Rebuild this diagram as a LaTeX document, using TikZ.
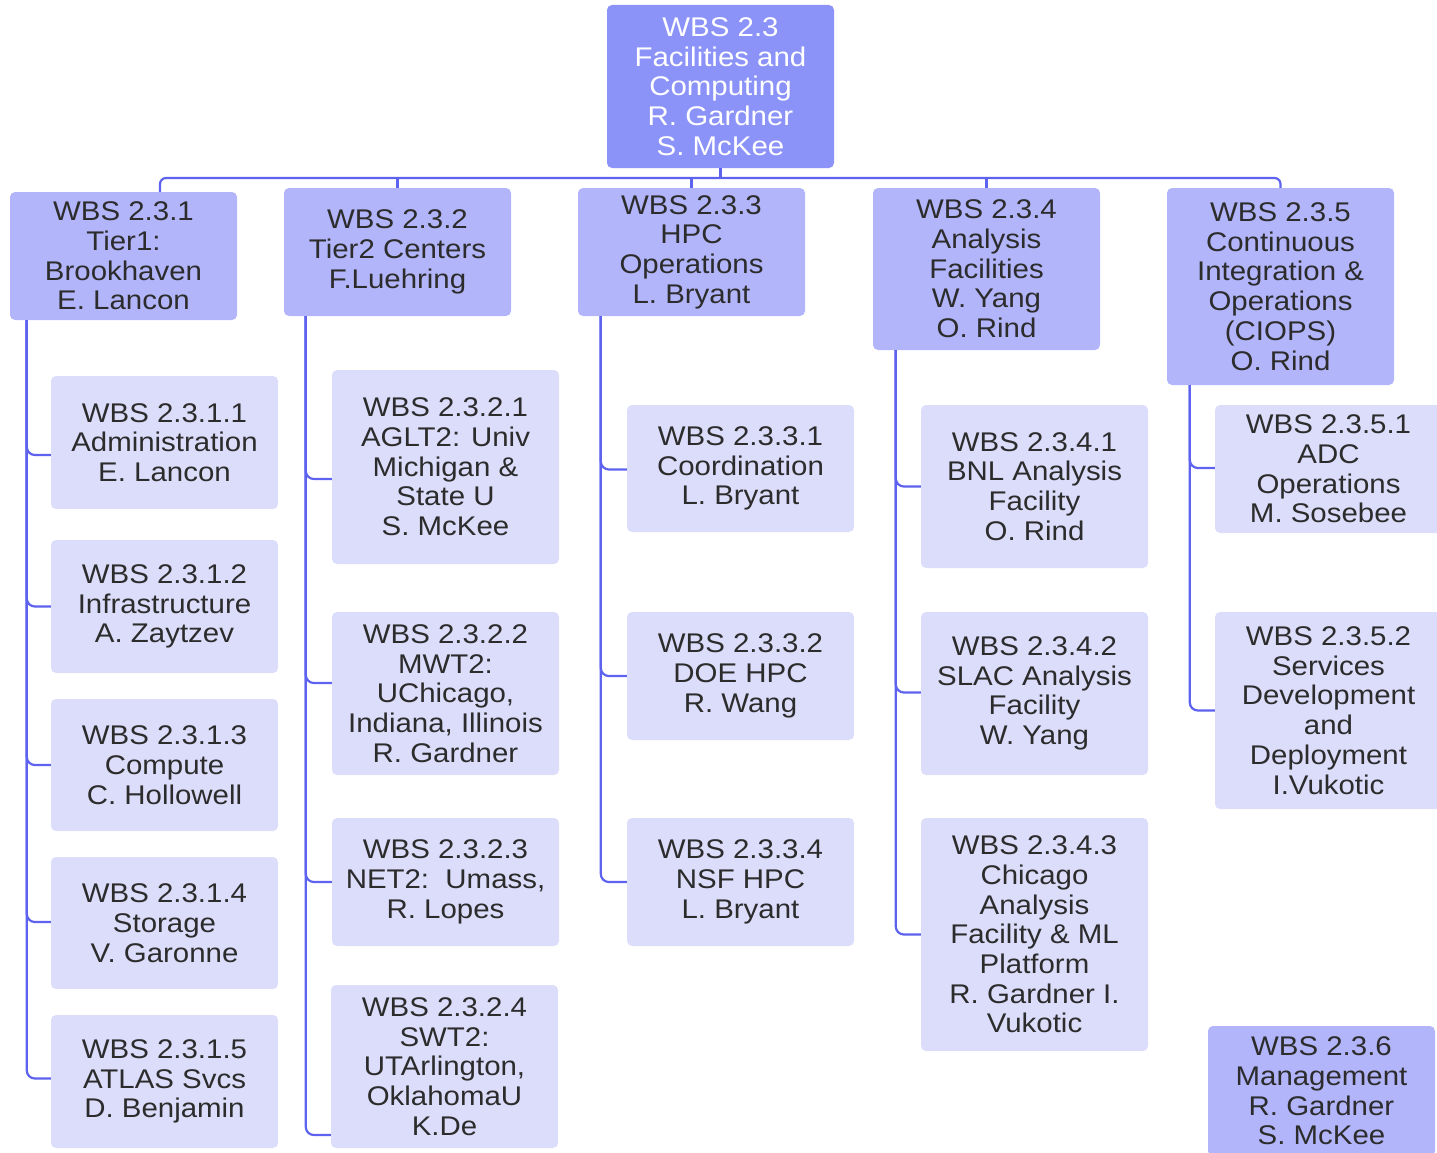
\documentclass[tikz,border=0pt]{standalone}
\usepackage{fontspec}
\setmainfont{Liberation Sans}[FakeStretch=1.09]
\definecolor{topfill}{HTML}{8C93F8}
\definecolor{lonefill}{HTML}{B2B5FA}
\definecolor{ltwofill}{HTML}{DCDDFB}
\definecolor{linec}{HTML}{5D63EE}
\definecolor{txt}{HTML}{2C2C2C}
\tikzset{
  box/.style={rectangle, rounded corners=5pt, minimum width=227pt, align=center, inner sep=0pt,
    font=\fontsize{27}{29.7}\selectfont, text=txt},
  topbox/.style={box, fill=topfill, text=white},
  lone/.style={box, fill=lonefill},
  ltwo/.style={box, fill=ltwofill},
  conn/.style={draw=linec, line width=2.2pt, rounded corners=8pt},
}
\begin{document}
\begin{tikzpicture}[x=1pt,y=-1pt]
\path[use as bounding box] (0,0) rectangle (1437,1153);
\clip (0,0) rectangle (1437,1153);
% top
\node[topbox, minimum height=163pt] (n0) at (720.5,86.5) {WBS 2.3\\Facilities and\\Computing\\R. Gardner\\S. McKee};
% level 1
\node[lone, minimum height=128pt] (n1) at (123.5,256) {WBS 2.3.1\\Tier1:\\Brookhaven\\E. Lancon};
\node[lone, minimum height=128pt] (n2) at (397.5,252) {WBS 2.3.2\\Tier2 Centers\\F.Luehring};
\node[lone, minimum height=128pt] (n3) at (691.5,252) {WBS 2.3.3\\HPC\\Operations\\L. Bryant};
\node[lone, minimum height=162pt] (n4) at (986.5,269) {WBS 2.3.4\\Analysis\\Facilities\\W. Yang\\O. Rind};
\node[lone, minimum height=197pt] (n5) at (1280.5,286.5) {WBS 2.3.5\\Continuous\\Integration \&\\Operations\\(CIOPS)\\O. Rind};
% level 2, column 1
\node[ltwo, minimum height=133pt] (n11) at (164.5,442.5) {WBS 2.3.1.1\\Administration\\E. Lancon};
\node[ltwo, minimum height=133pt] (n12) at (164.5,606.5) {WBS 2.3.1.2\\Infrastructure\\A. Zaytzev};
\node[ltwo, minimum height=132pt] (n13) at (164.5,765) {WBS 2.3.1.3\\Compute\\C. Hollowell};
\node[ltwo, minimum height=132pt] (n14) at (164.5,923) {WBS 2.3.1.4\\Storage\\V. Garonne};
\node[ltwo, minimum height=133pt] (n15) at (164.5,1081.5) {WBS 2.3.1.5\\ATLAS Svcs\\D. Benjamin};
% column 2
\node[ltwo, minimum height=194pt] (n21) at (445.5,467) {WBS 2.3.2.1\\AGLT2: Univ\\Michigan \&\\State U\\S. McKee};
\node[ltwo, minimum height=163pt] (n22) at (445.5,693.5) {WBS 2.3.2.2\\MWT2:\\UChicago,\\Indiana, Illinois\\R. Gardner};
\node[ltwo, minimum height=128pt] (n23) at (445.5,882) {WBS 2.3.2.3\\NET2:\ \ Umass,\\R. Lopes};
\node[ltwo, minimum height=163pt] (n24) at (444.5,1066.5) {WBS 2.3.2.4\\SWT2:\\UTArlington,\\OklahomaU\\K.De};
% column 3
\node[ltwo, minimum height=127pt] (n31) at (740.5,468.5) {WBS 2.3.3.1\\Coordination\\L. Bryant};
\node[ltwo, minimum height=128pt] (n32) at (740.5,676) {WBS 2.3.3.2\\DOE HPC\\R. Wang};
\node[ltwo, minimum height=128pt] (n34) at (740.5,882) {WBS 2.3.3.4\\NSF HPC\\L. Bryant};
% column 4
\node[ltwo, minimum height=163pt] (n41) at (1034.5,486.5) {WBS 2.3.4.1\\BNL Analysis\\Facility\\O. Rind};
\node[ltwo, minimum height=163pt] (n42) at (1034.5,693.5) {WBS 2.3.4.2\\SLAC Analysis\\Facility\\W. Yang};
\node[ltwo, minimum height=233pt] (n43) at (1034.5,934.5) {WBS 2.3.4.3\\Chicago\\Analysis\\Facility \& ML\\Platform\\R. Gardner I.\\Vukotic};
% column 5
\node[ltwo, minimum height=128pt] (n51) at (1328.5,469) {WBS 2.3.5.1\\ADC\\Operations\\M. Sosebee};
\node[ltwo, minimum height=197pt] (n52) at (1328.5,710.5) {WBS 2.3.5.2\\Services\\Development\\and\\Deployment\\I.Vukotic};
% management
\node[lone, minimum height=130pt] (n6) at (1321.5,1091) {WBS 2.3.6\\Management\\R. Gardner\\S. McKee};
% top connectors
\coordinate (bus) at (720.5,178);
\draw[conn, rounded corners=6pt] ([xshift=36.5pt]n1.north) |- (bus) -| (n5.north);
\draw[conn] (n0.south) -- (bus);
\draw[conn] (n2.north) -- (n2.north |- bus);
\draw[conn] (n3.north) -- (n3.north |- bus);
\draw[conn] (n4.north) -- (n4.north |- bus);
% column connectors
\foreach \c/\s in {n11/-12.5, n12/0, n13/0, n14/1, n15/3}
  \draw[conn] ([xshift=17pt]n1.south west) |- ([yshift=\s pt]\c.west);
\foreach \c/\s in {n21/-12, n22/10.5, n23/0, n24/-68.5}
  \draw[conn] ([xshift=22pt]n2.south west) |- ([yshift=\s pt]\c.west);
\foreach \c/\s in {n31/-1, n32/0, n34/0}
  \draw[conn] ([xshift=23pt]n3.south west) |- ([yshift=\s pt]\c.west);
\foreach \c/\s in {n41/0, n42/1, n43/0}
  \draw[conn] ([xshift=23pt]n4.south west) |- ([yshift=\s pt]\c.west);
\foreach \c/\s in {n51/1, n52/0}
  \draw[conn] ([xshift=23pt]n5.south west) |- ([yshift=\s pt]\c.west);
\end{tikzpicture}
\end{document}
